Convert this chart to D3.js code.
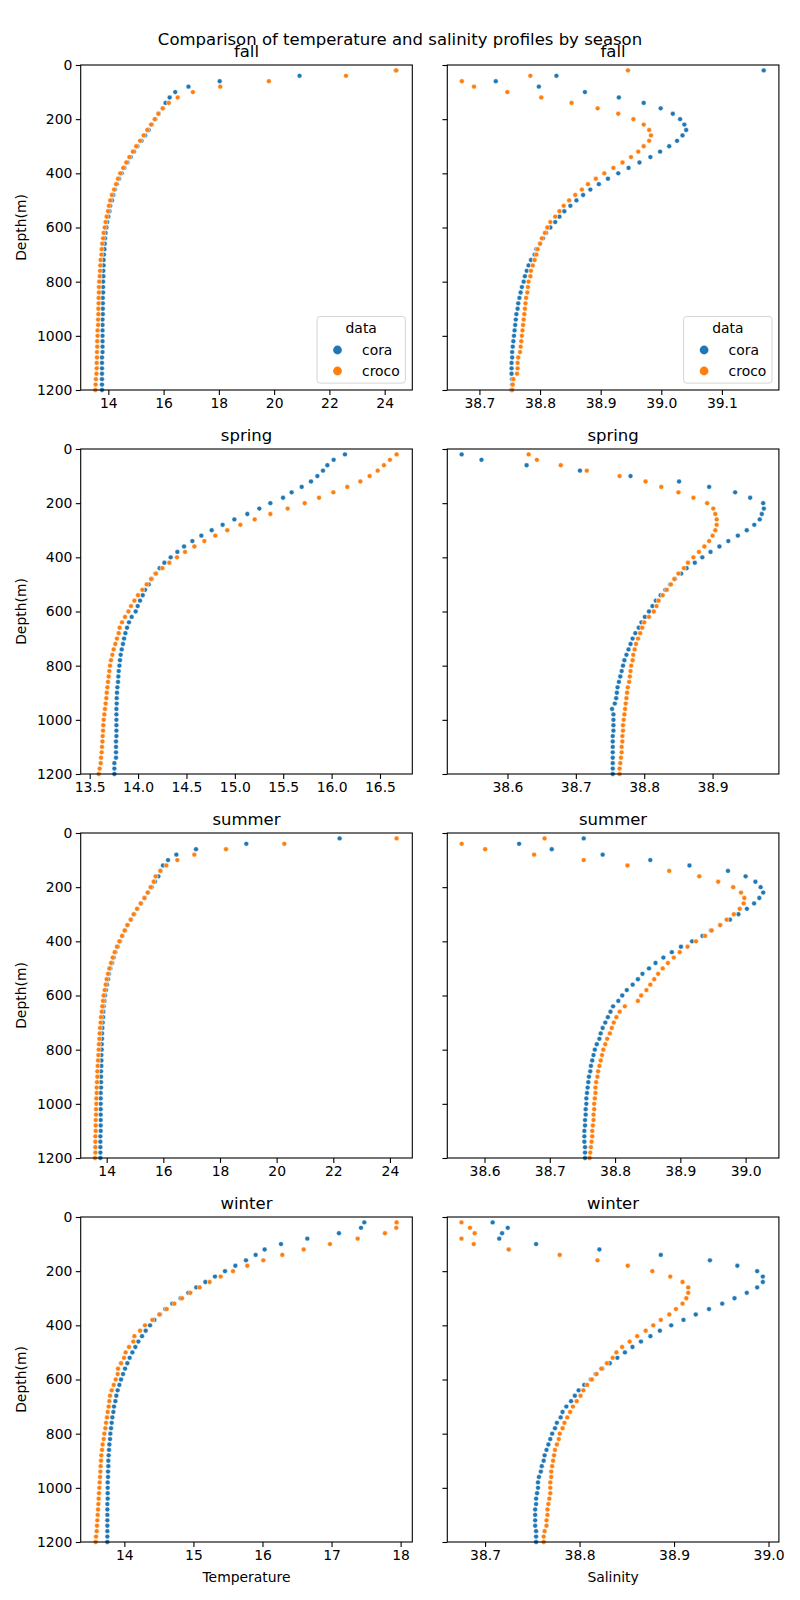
<!DOCTYPE html>
<html><head><meta charset="utf-8">
<script src="https://cdn.jsdelivr.net/npm/d3@7"></script>
<style>body{margin:0;background:#fff}svg{display:block;font-family:"DejaVu Sans",sans-serif}</style>
</head><body><svg id="c" width="800" height="1600"></svg>
<script>
const seasons = ["fall","spring","summer","winter"];
const sources = ["cora","croco"];
const depths = [20,40,60,80,100,120,140,160,180,200,220,240,260,280,300,320,340,360,380,400,
420,440,460,480,500,520,540,560,580,600,620,640,660,680,700,720,740,760,780,800,
820,840,860,880,900,920,940,960,980,1000,1020,1040,1060,1080,1100,1120,1140,1160,1180,1200];
const depthTicks = [0,200,400,600,800,1000,1200];

const fallTempCora = [24.40,20.92,18.03,16.90,16.42,16.22,16.07,15.97,15.82,15.70,
15.57,15.46,15.33,15.20,15.05,14.93,14.81,14.69,14.58,14.48,
14.39,14.31,14.24,14.18,14.13,14.07,14.04,14.00,13.96,13.93,
13.90,13.88,13.87,13.86,13.84,13.83,13.83,13.82,13.82,13.81,
13.81,13.81,13.80,13.80,13.80,13.80,13.79,13.79,13.79,13.79,
13.79,13.79,13.79,13.77,13.77,13.77,13.77,13.77,13.77,13.77];
const fallTempCroco = [24.42,22.60,19.81,18.05,17.06,16.51,16.19,15.97,15.81,15.68,
15.55,15.41,15.28,15.15,15.01,14.89,14.76,14.65,14.54,14.43,
14.35,14.28,14.21,14.13,14.07,14.02,13.99,13.94,13.90,13.87,
13.83,13.81,13.78,13.76,13.75,13.72,13.71,13.70,13.69,13.67,
13.66,13.66,13.65,13.65,13.64,13.64,13.63,13.63,13.61,13.61,
13.60,13.60,13.59,13.59,13.58,13.58,13.57,13.55,13.54,13.53];
const fallSalCora = [39.169,38.827,38.727,38.798,38.874,38.930,38.971,38.999,39.019,39.031,
39.038,39.041,39.035,39.026,39.013,38.998,38.982,38.964,38.946,38.929,
38.912,38.897,38.883,38.871,38.860,38.850,38.840,38.832,38.825,38.817,
38.810,38.805,38.800,38.794,38.791,38.785,38.781,38.778,38.775,38.773,
38.770,38.768,38.766,38.764,38.763,38.761,38.760,38.759,38.758,38.757,
38.756,38.755,38.754,38.754,38.753,38.753,38.753,38.754,38.754,38.753];
const fallSalCroco = [38.945,38.784,38.671,38.691,38.746,38.802,38.852,38.895,38.929,38.954,
38.971,38.980,38.983,38.980,38.971,38.962,38.950,38.936,38.921,38.906,
38.892,38.879,38.869,38.858,38.848,38.839,38.832,38.825,38.817,38.812,
38.808,38.803,38.800,38.796,38.794,38.791,38.788,38.785,38.784,38.781,
38.780,38.779,38.777,38.776,38.775,38.774,38.773,38.772,38.771,38.770,
38.769,38.768,38.767,38.764,38.763,38.763,38.762,38.756,38.755,38.754];

const springTempCora = [16.138,16.021,15.956,15.911,15.853,15.787,15.691,15.587,15.498,15.367,
15.253,15.129,14.995,14.874,14.761,14.654,14.561,14.475,14.406,14.337,
14.272,14.223,14.179,14.141,14.110,14.072,14.048,14.020,13.996,13.975,
13.934,13.906,13.886,13.869,13.855,13.844,13.831,13.820,13.813,13.807,
13.800,13.796,13.793,13.786,13.782,13.779,13.779,13.776,13.776,13.776,
13.776,13.776,13.776,13.772,13.772,13.772,13.772,13.755,13.755,13.755];
const springTempCroco = [16.672,16.603,16.541,16.476,16.393,16.297,16.162,16.018,15.870,15.722,
15.546,15.367,15.205,15.057,14.922,14.798,14.685,14.582,14.485,14.402,
14.323,14.251,14.185,14.134,14.089,14.044,13.999,13.962,13.927,13.900,
13.865,13.834,13.810,13.800,13.782,13.765,13.748,13.734,13.720,13.710,
13.703,13.696,13.689,13.683,13.676,13.672,13.665,13.658,13.651,13.645,
13.641,13.638,13.634,13.631,13.627,13.624,13.617,13.614,13.603,13.593];
const springSalCora = [38.533,38.562,38.628,38.706,38.780,38.851,38.895,38.933,38.955,38.974,
38.975,38.972,38.969,38.961,38.950,38.937,38.923,38.910,38.897,38.885,
38.874,38.862,38.854,38.845,38.838,38.831,38.824,38.817,38.812,38.807,
38.801,38.796,38.792,38.787,38.783,38.780,38.777,38.774,38.771,38.769,
38.767,38.765,38.763,38.761,38.760,38.759,38.757,38.753,38.755,38.755,
38.755,38.755,38.754,38.754,38.754,38.754,38.754,38.754,38.754,38.754];
const springSalCroco = [38.631,38.643,38.678,38.716,38.764,38.802,38.825,38.850,38.872,38.892,
38.901,38.904,38.906,38.906,38.904,38.900,38.895,38.888,38.880,38.872,
38.864,38.858,38.850,38.844,38.839,38.833,38.827,38.821,38.818,38.814,
38.807,38.800,38.797,38.794,38.791,38.788,38.786,38.784,38.783,38.781,
38.780,38.779,38.778,38.776,38.775,38.774,38.773,38.772,38.771,38.770,
38.769,38.769,38.768,38.768,38.767,38.767,38.766,38.765,38.764,38.764];

const summerTempCora = [22.224,18.929,17.153,16.459,16.165,15.988,15.894,15.824,15.706,15.588,
15.459,15.341,15.212,15.082,14.965,14.859,14.741,14.647,14.553,14.471,
14.388,14.306,14.247,14.188,14.129,14.082,14.047,14.012,13.976,13.941,
13.918,13.894,13.882,13.871,13.859,13.847,13.835,13.835,13.824,13.824,
13.812,13.812,13.812,13.800,13.800,13.800,13.800,13.788,13.788,13.788,
13.788,13.788,13.788,13.788,13.788,13.776,13.776,13.776,13.776,13.776];
const summerTempCroco = [24.235,20.271,18.212,17.094,16.494,16.106,15.894,15.729,15.659,15.553,
15.447,15.329,15.200,15.071,14.953,14.847,14.729,14.635,14.541,14.447,
14.365,14.282,14.212,14.153,14.094,14.047,14.000,13.965,13.929,13.894,
13.871,13.847,13.824,13.800,13.788,13.765,13.753,13.741,13.729,13.718,
13.706,13.694,13.682,13.671,13.671,13.659,13.647,13.647,13.635,13.635,
13.624,13.624,13.612,13.612,13.612,13.600,13.600,13.600,13.600,13.588];
const summerSalCora = [38.752,38.653,38.703,38.781,38.854,38.914,38.973,39.000,39.015,39.023,
39.027,39.021,39.013,39.002,38.989,38.976,38.961,38.947,38.934,38.918,
38.901,38.887,38.874,38.862,38.852,38.842,38.835,38.827,38.818,38.811,
38.805,38.797,38.793,38.789,38.785,38.781,38.778,38.776,38.772,38.769,
38.767,38.765,38.763,38.762,38.760,38.759,38.758,38.757,38.756,38.756,
38.755,38.755,38.754,38.754,38.753,38.753,38.753,38.754,38.754,38.754];
const summerSalCroco = [38.692,38.565,38.601,38.676,38.752,38.819,38.883,38.929,38.958,38.981,
38.993,38.998,38.997,38.991,38.982,38.971,38.961,38.948,38.938,38.924,
38.911,38.899,38.890,38.881,38.873,38.866,38.860,38.854,38.848,38.840,
38.835,38.815,38.807,38.802,38.798,38.795,38.792,38.788,38.785,38.782,
38.780,38.778,38.776,38.774,38.773,38.771,38.770,38.770,38.769,38.768,
38.768,38.767,38.767,38.766,38.765,38.765,38.764,38.763,38.762,38.761];

const winterTempCora = [17.474,17.426,17.107,16.649,16.268,16.031,15.901,15.761,15.607,15.457,
15.312,15.173,15.042,14.926,14.815,14.695,14.593,14.516,14.434,14.372,
14.309,14.256,14.203,14.159,14.116,14.077,14.043,14.010,13.981,13.952,
13.928,13.903,13.884,13.870,13.850,13.841,13.826,13.817,13.807,13.797,
13.793,13.783,13.778,13.773,13.768,13.768,13.764,13.764,13.759,13.759,
13.759,13.759,13.754,13.754,13.754,13.754,13.754,13.754,13.754,13.754];
const winterTempCroco = [17.942,17.937,17.773,17.378,16.977,16.596,16.287,16.012,15.780,15.573,
15.394,15.235,15.090,14.955,14.835,14.724,14.613,14.507,14.405,14.299,
14.227,14.145,14.130,14.068,14.019,13.995,13.952,13.908,13.903,13.875,
13.846,13.817,13.793,13.783,13.773,13.759,13.749,13.735,13.725,13.710,
13.701,13.686,13.677,13.667,13.662,13.657,13.653,13.648,13.643,13.638,
13.633,13.628,13.624,13.619,13.614,13.609,13.604,13.600,13.590,13.585];
const winterSalCora = [38.708,38.724,38.718,38.715,38.754,38.821,38.886,38.938,38.967,38.988,
38.994,38.994,38.988,38.977,38.964,38.951,38.937,38.923,38.910,38.897,
38.885,38.875,38.865,38.856,38.848,38.840,38.832,38.824,38.817,38.812,
38.805,38.799,38.795,38.791,38.786,38.782,38.780,38.776,38.774,38.771,
38.769,38.767,38.765,38.763,38.762,38.760,38.759,38.757,38.756,38.756,
38.755,38.754,38.754,38.753,38.753,38.753,38.753,38.754,38.754,38.754];
const winterSalCroco = [38.675,38.684,38.689,38.675,38.688,38.725,38.779,38.819,38.851,38.877,
38.896,38.909,38.915,38.915,38.913,38.909,38.902,38.895,38.886,38.878,
38.870,38.861,38.853,38.845,38.839,38.835,38.829,38.823,38.818,38.813,
38.808,38.804,38.801,38.797,38.793,38.790,38.787,38.784,38.782,38.779,
38.778,38.776,38.774,38.773,38.772,38.771,38.770,38.770,38.769,38.769,
38.769,38.768,38.767,38.766,38.766,38.765,38.765,38.763,38.762,38.762];

const tempDomains = [[13.0,25.0],[13.407,16.834],[13.082,24.79],[13.368,18.169]];
const salDomains = [[38.647,39.194],[38.512,38.997],[38.543,39.051],[38.660,39.011]];
const tempTicks = [[14,16,18,20,22,24],[13.5,14.0,14.5,15.0,15.5,16.0,16.5],[14,16,18,20,22,24],[14,15,16,17,18]];
const salTicks = [[38.7,38.8,38.9,39.0,39.1],[38.6,38.7,38.8,38.9],[38.6,38.7,38.8,38.9,39.0],[38.7,38.8,38.9,39.0]];
const tempFormats = ["d",".1f","d","d"];

const tempData = [[fallTempCora,fallTempCroco],[springTempCora,springTempCroco],[summerTempCora,summerTempCroco],[winterTempCora,winterTempCroco]];
const salData = [[fallSalCora,fallSalCroco],[springSalCora,springSalCroco],[summerSalCora,summerSalCroco],[winterSalCora,winterSalCroco]];

const colors = d3.scaleOrdinal().domain(sources).range(["#1f77b4","#ff7f0e"]);

const svg = d3.select("#c");
const colX = [80.7, 447.3], plotW = 331.6;
const rowY = [65, 449, 833, 1217], plotH = 325;

svg.append("text").attr("x",400).attr("y",45).attr("text-anchor","middle")
  .attr("font-size","16.5px").text("Comparison of temperature and salinity profiles by season");

function panel(r, c, series, domain, ticks, fmt, isLeft, isBottom, legend, xlabel){
  const x0 = colX[c], y0 = rowY[r];
  const g = svg.append("g").attr("transform",`translate(${x0},${y0})`);
  const x = d3.scaleLinear().domain(domain).range([0, plotW]);
  const y = d3.scaleLinear().domain([0,1200]).range([0, plotH]);

  const xa = g.append("g").attr("transform",`translate(0,${plotH})`)
    .call(d3.axisBottom(x).tickValues(ticks).tickFormat(d3.format(fmt)).tickSizeOuter(0).tickSize(4.9).tickPadding(3.5));
  const ya = g.append("g")
    .call(d3.axisLeft(y).tickValues(depthTicks).tickSizeOuter(0).tickSize(4.9).tickPadding(3.5)
      .tickFormat(isLeft ? d3.format("d") : ""));
  [xa, ya].forEach(a => {
    a.select(".domain").remove();
    a.selectAll("line").attr("stroke","#000").attr("stroke-width",1.1);
    a.selectAll("text").attr("font-size","13.9px").attr("fill","#000").attr("font-family","DejaVu Sans, sans-serif");
  });

  const pts = g.append("g");
  series.forEach((vals, si) => {
    pts.selectAll(null).data(vals.map((v,i)=>({v, d: depths[i]}))).enter().append("circle")
      .attr("cx", d => x(d.v)).attr("cy", d => y(d.d)).attr("r", 2.45)
      .attr("fill", colors(sources[si])).attr("stroke","#fff").attr("stroke-width",0.5);
  });

  g.append("rect").attr("width",plotW).attr("height",plotH).attr("fill","none")
    .attr("stroke","#000").attr("stroke-width",1.1);

  g.append("text").attr("x",plotW/2).attr("y",-8.3).attr("text-anchor","middle")
    .attr("font-size","16.5px").text(seasons[r]);

  if (isLeft) {
    g.append("text").attr("transform",`translate(${21.5-x0},${plotH/2}) rotate(-90)`)
      .attr("text-anchor","middle").attr("dy","0.35em").attr("font-size","13.9px").text("Depth(m)");
  }
  if (isBottom) {
    g.append("text").attr("x",plotW/2).attr("y",plotH+40).attr("text-anchor","middle")
      .attr("font-size","13.9px").text(xlabel);
  }
  if (legend) {
    const lw = 88.4, lh = 66.6, lx = plotW - lw - 6.9, ly = plotH - lh - 6.9;
    const lg = g.append("g").attr("transform",`translate(${lx},${ly})`);
    lg.append("rect").attr("width",lw).attr("height",lh).attr("rx",3)
      .attr("fill","#fff").attr("fill-opacity",0.8).attr("stroke","#d5d5d5").attr("stroke-width",1);
    lg.append("text").attr("x",lw/2).attr("y",16.5).attr("text-anchor","middle").attr("font-size","13.9px").text("data");
    sources.forEach((s,i) => {
      lg.append("circle").attr("cx",20.5).attr("cy",33.5+21*i).attr("r",4.4).attr("fill",colors(s));
      lg.append("text").attr("x",45).attr("y",33.5+21*i).attr("dy","0.35em").attr("font-size","13.9px").text(s);
    });
  }
}

for (let r = 0; r < 4; r++) {
  panel(r, 0, tempData[r], tempDomains[r], tempTicks[r], tempFormats[r], true, r===3, r===0, "Temperature");
  panel(r, 1, salData[r], salDomains[r], salTicks[r], ".1f", false, r===3, r===0, "Salinity");
}
</script></body></html>
